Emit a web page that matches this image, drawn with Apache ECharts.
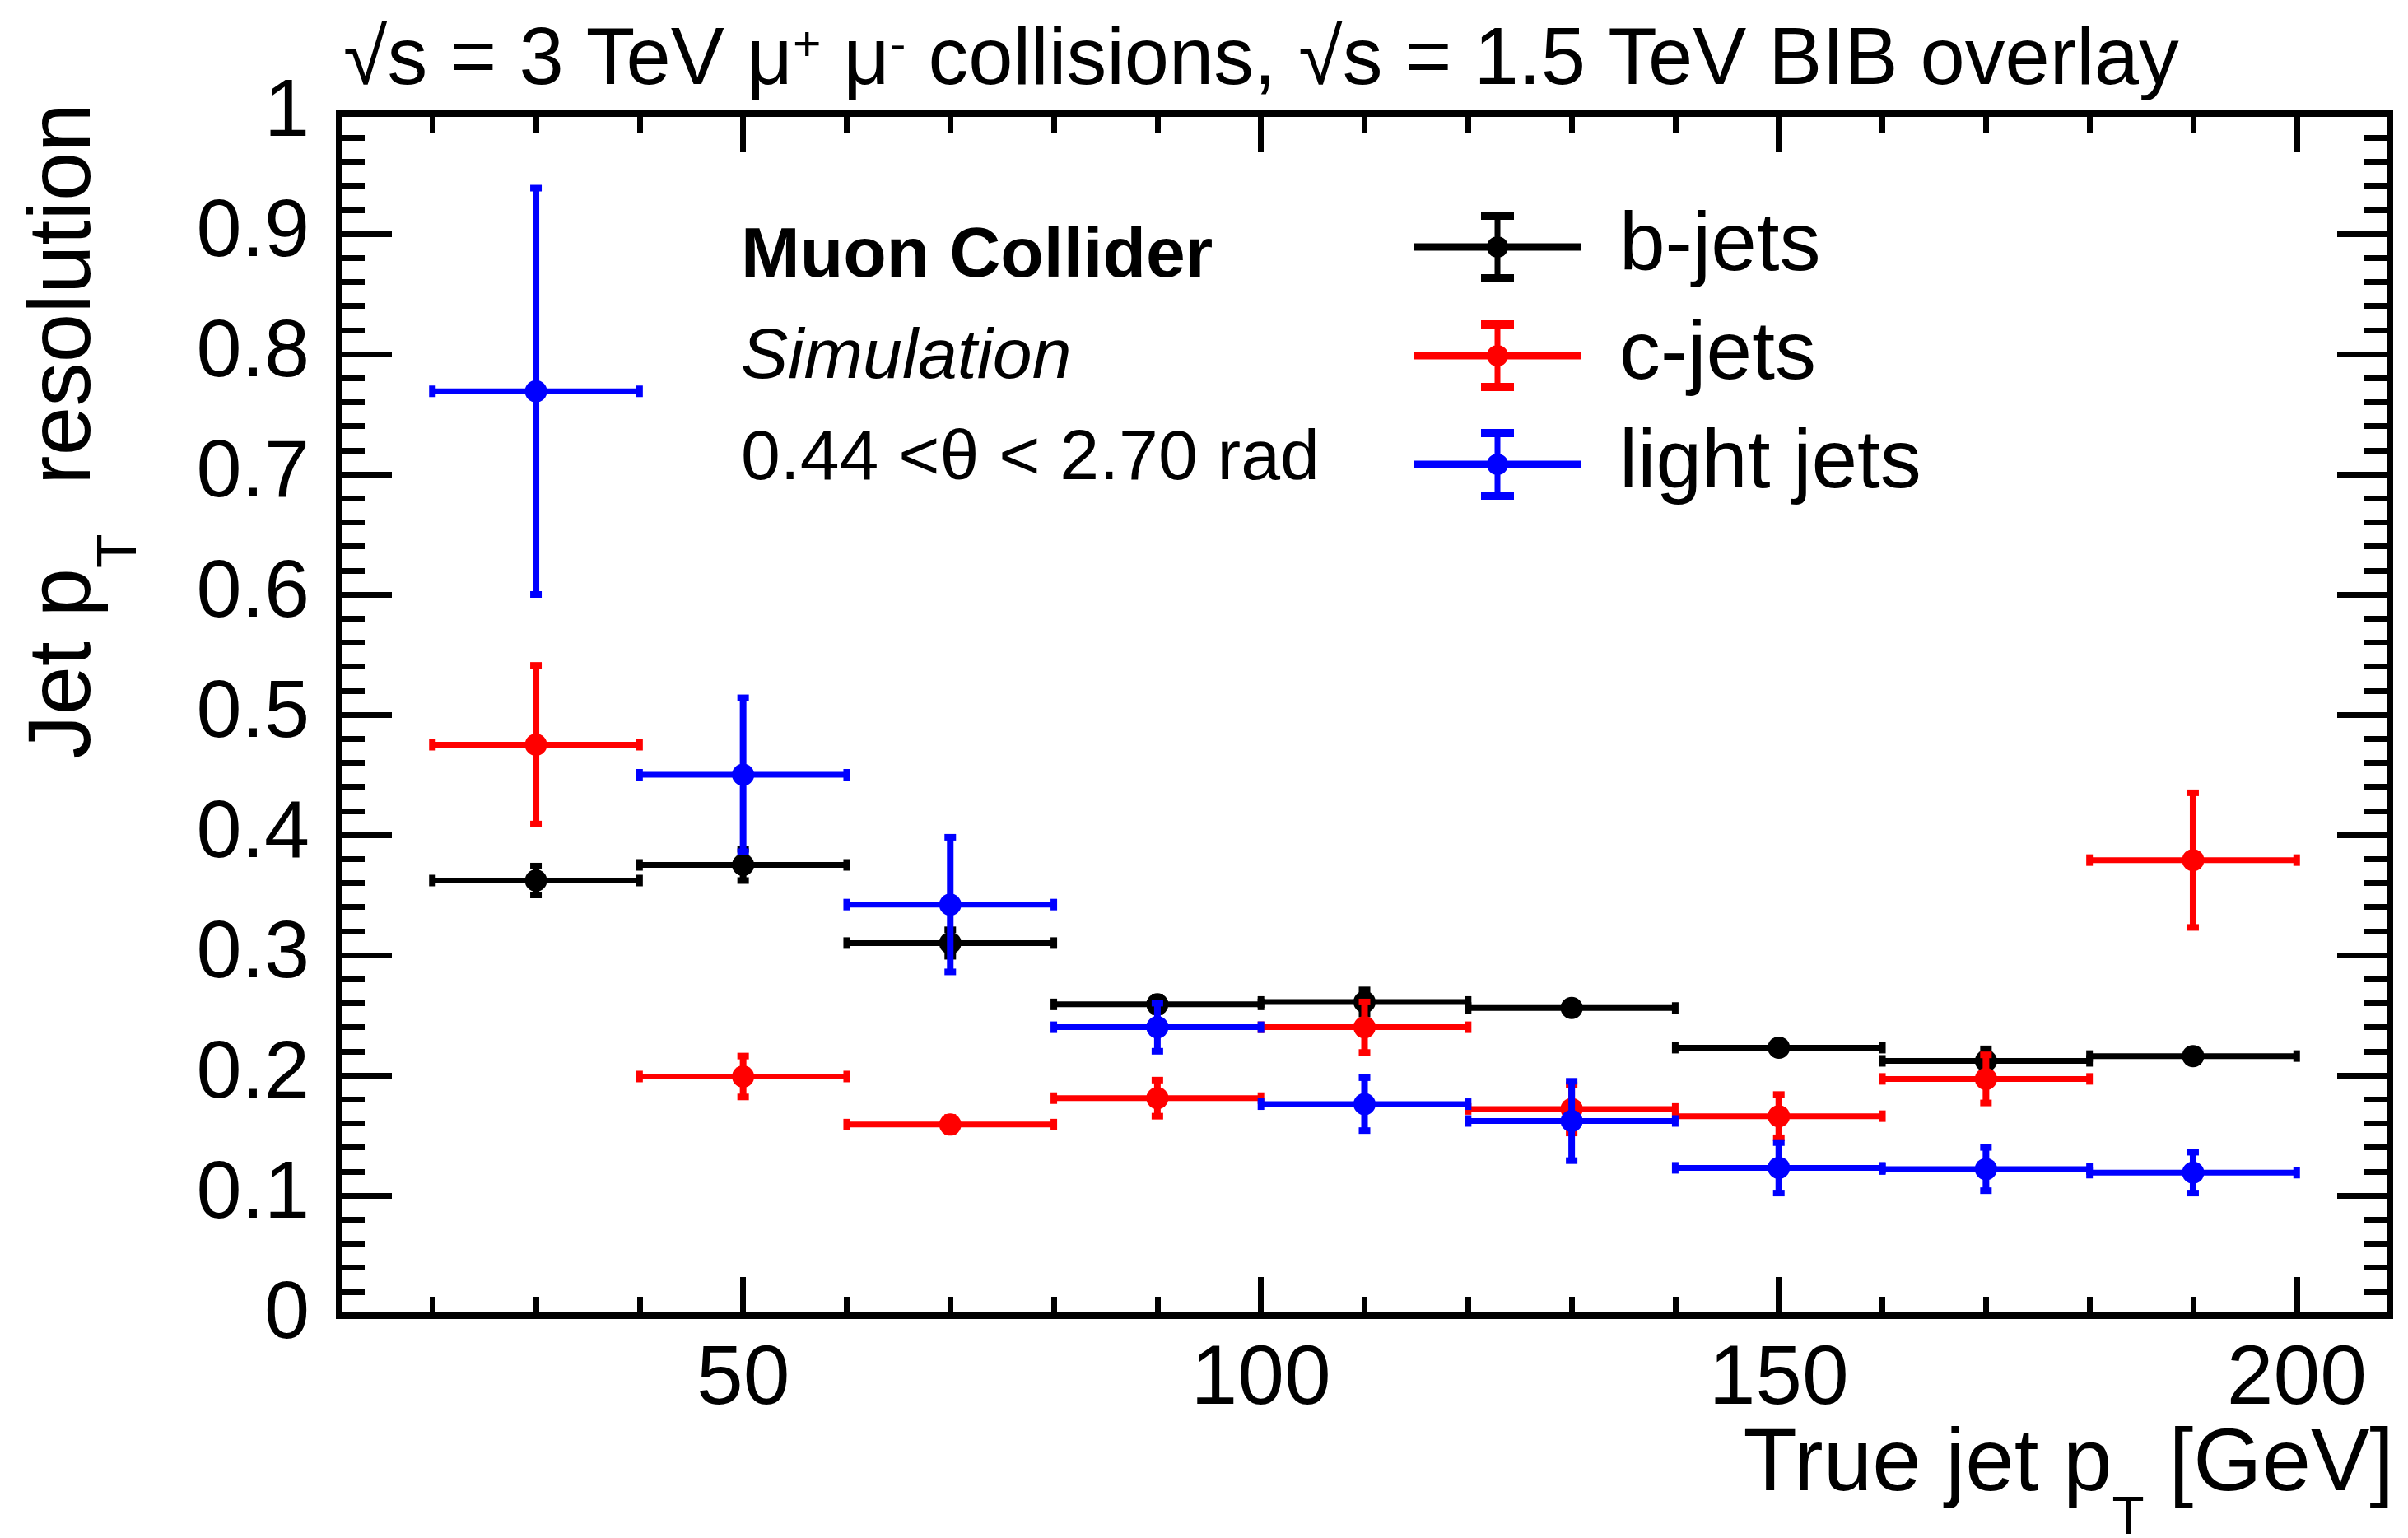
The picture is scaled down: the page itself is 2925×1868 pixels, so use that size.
<!DOCTYPE html>
<html>
<head>
<meta charset="utf-8">
<script src="https://cdn.jsdelivr.net/npm/echarts@6/dist/echarts.min.js"></script>
<style>
html,body{margin:0;padding:0;background:#fff;}
#chart{width:2925px;height:1868px;}
</style>
</head>
<body>
<div id="chart"></div>
<script>
// ---- data ----
const X_BIN_CENTERS = [30, 50, 70, 90, 110, 130, 150, 170, 190];
const X_BIN_HALF_WIDTHS = [10, 10, 10, 10, 10, 10, 10, 10, 10];

const B_JETS = [0.362, 0.375, 0.310, 0.259, 0.261, 0.256, 0.223, 0.212, 0.216];
const B_JETS_ERR = [0.012, 0.013, 0.011, 0.006, 0.010, 0.005, 0.005, 0.010, 0.005];

const C_JETS = [0.475, 0.199, 0.159, 0.181, 0.240, 0.172, 0.166, 0.197, 0.379];
const C_JETS_ERR = [0.066, 0.017, 0.006, 0.015, 0.021, 0.020, 0.018, 0.020, 0.056];

const LIGHT_JETS = [0.769, 0.450, 0.342, 0.240, 0.176, 0.162, 0.123, 0.122, 0.119];
const LIGHT_JETS_ERR = [0.169, 0.064, 0.056, 0.020, 0.022, 0.033, 0.021, 0.018, 0.017];

const X_MAJOR_TICKS = [50, 100, 150, 200];
const X_MINOR_TICKS = [20, 30, 40, 50, 60, 70, 80, 90, 100, 110, 120, 130, 140, 150, 160, 170, 180, 190, 200];
const X_RANGE = [11, 209];
const Y_RANGE = [0, 1];
const Y_TICK_STEP = 0.1;

const SERIES_NAMES = ['b-jets', 'c-jets', 'light jets'];
const SERIES_COLORS = ['#000000', '#ff0000', '#0000ff'];

// ---- chart ----
const FONT = 'Liberation Sans, Arial, Helvetica, sans-serif';

function buildData(vals, errs) {
  return X_BIN_CENTERS.map((x, i) => [x, vals[i], errs[i], X_BIN_HALF_WIDTHS[i]]);
}

function renderErr(params, api) {
  const x = api.value(0), y = api.value(1), ey = api.value(2), ex = api.value(3);
  const c = api.coord([x, y]);
  const l = api.coord([x - ex, y]);
  const r = api.coord([x + ex, y]);
  const t = api.coord([x, y + ey]);
  const b = api.coord([x, y - ey]);
  const color = api.visual('color');
  return {
    type: 'group',
    children: [
      {type: 'line', shape: {x1: l[0], y1: c[1], x2: r[0], y2: c[1]}, style: {stroke: color, lineWidth: 7}},
      {type: 'rect', shape: {x: l[0] - 4, y: c[1] - 7, width: 8, height: 14}, style: {fill: color}},
      {type: 'rect', shape: {x: r[0] - 4, y: c[1] - 7, width: 8, height: 14}, style: {fill: color}},
      {type: 'line', shape: {x1: c[0], y1: t[1], x2: c[0], y2: b[1]}, style: {stroke: color, lineWidth: 8}},
      {type: 'rect', shape: {x: c[0] - 7, y: t[1] - 4, width: 14, height: 8}, style: {fill: color}},
      {type: 'rect', shape: {x: c[0] - 7, y: b[1] - 4, width: 14, height: 8}, style: {fill: color}},
      {type: 'circle', shape: {cx: c[0], cy: c[1], r: 13.5}, style: {fill: color}}
    ]
  };
}

const LEGEND_ICON = 'path://M0,38.5H204V47.5H0Z M98.5,0H105.5V86H98.5Z M82,0H122V10H82Z M82,76H122V86H82Z M89,43A13,13,0,1,1,115,43A13,13,0,1,1,89,43Z';

const tickStyle = {color: '#000', width: 7};

function xAxisDef(pos, ticks, len, labels) {
  return {
    type: 'value', position: pos, min: X_RANGE[0], max: X_RANGE[1],
    axisLine: {show: false},
    axisTick: {show: true, inside: true, length: len, customValues: ticks, lineStyle: tickStyle},
    axisLabel: labels ? {show: true, customValues: X_MAJOR_TICKS, fontSize: 102, fontFamily: FONT, color: '#000', margin: 28}
                      : {show: false},
    splitLine: {show: false}
  };
}

function yAxisDef(pos, labels) {
  return {
    type: 'value', position: pos, min: Y_RANGE[0], max: Y_RANGE[1], interval: Y_TICK_STEP,
    axisLine: {show: false},
    axisTick: {show: true, inside: true, length: 64, lineStyle: tickStyle},
    minorTick: {show: true, splitNumber: 5, length: 31, lineStyle: tickStyle},
    axisLabel: labels ? {show: true, fontSize: 99, fontFamily: FONT, color: '#000', margin: 36}
                      : {show: false},
    splitLine: {show: false}
  };
}

const chart = echarts.init(document.getElementById('chart'), null, {renderer: 'canvas'});
const datasets = [[B_JETS, B_JETS_ERR], [C_JETS, C_JETS_ERR], [LIGHT_JETS, LIGHT_JETS_ERR]];

chart.setOption({
  animation: false,
  backgroundColor: '#ffffff',
  grid: {left: 412, right: 22, top: 138, bottom: 270, show: true, borderColor: '#000', borderWidth: 8,
         backgroundColor: 'transparent', containLabel: false, outerBoundsMode: 'none'},
  xAxis: [
    xAxisDef('bottom', X_MINOR_TICKS, 23, true),
    xAxisDef('bottom', X_MAJOR_TICKS, 47, false),
    xAxisDef('top', X_MINOR_TICKS, 23, false),
    xAxisDef('top', X_MAJOR_TICKS, 47, false)
  ],
  yAxis: [yAxisDef('left', true), yAxisDef('right', false)],
  legend: {
    orient: 'vertical', left: 1717, top: 250, padding: 0, itemGap: 32,
    itemWidth: 204, itemHeight: 86, selectedMode: false,
    textStyle: {fontSize: 100, fontFamily: FONT, color: '#000', lineHeight: 100, padding: [0, 0, 0, 41]},
    data: SERIES_NAMES.map(n => ({name: n, icon: LEGEND_ICON}))
  },
  series: datasets.map((d, i) => ({
    type: 'custom', name: SERIES_NAMES[i], xAxisIndex: 0, yAxisIndex: 0,
    itemStyle: {color: SERIES_COLORS[i]},
    renderItem: renderErr,
    encode: {x: 0, y: 1},
    data: buildData(d[0], d[1])
  })),
  graphic: [
    {type: 'text', x: 417, y: 27, style: {
      text: '√s = 3 TeV μ{sup|+} μ{sup|-} collisions, √s = 1.5 TeV BIB overlay',
      fontSize: 97.5, fontFamily: FONT, fill: '#000', align: 'left', verticalAlign: 'top', lineHeight: 97,
      rich: {sup: {fontSize: 59, fontFamily: FONT, fill: '#000', verticalAlign: 'top', lineHeight: 10}}
    }},
    {type: 'text', x: 900, y: 312, style: {text: 'Muon Collider', fontSize: 86, fontWeight: 'bold', fontFamily: FONT,
      fill: '#000', align: 'left', verticalAlign: 'middle'}},
    {type: 'text', x: 900, y: 435, style: {text: 'Simulation', fontSize: 86, fontStyle: 'italic', fontFamily: FONT,
      fill: '#000', align: 'left', verticalAlign: 'middle'}},
    {type: 'text', x: 900, y: 558, style: {text: '0.44 <θ < 2.70 rad', fontSize: 86, fontFamily: FONT,
      fill: '#000', align: 'left', verticalAlign: 'middle'}},
    {type: 'text', x: 2908, y: 1727, style: {
      text: 'True jet p{sub|T} [GeV]', fontSize: 107, fontFamily: FONT, fill: '#000',
      align: 'right', verticalAlign: 'top', lineHeight: 107,
      rich: {sub: {fontSize: 64, fontFamily: FONT, fill: '#000', verticalAlign: 'top', padding: [86, 0, 0, 0], lineHeight: 10}}
    }},
    {type: 'text', x: 26, y: 125, rotation: Math.PI / 2, style: {
      text: 'Jet p{sub|T}  resolution', fontSize: 107, fontFamily: FONT, fill: '#000',
      align: 'right', verticalAlign: 'top', lineHeight: 107,
      rich: {sub: {fontSize: 68, fontFamily: FONT, fill: '#000', verticalAlign: 'top', padding: [86, 0, 0, 0], lineHeight: 10}}
    }}
  ]
});
</script>
</body>
</html>
